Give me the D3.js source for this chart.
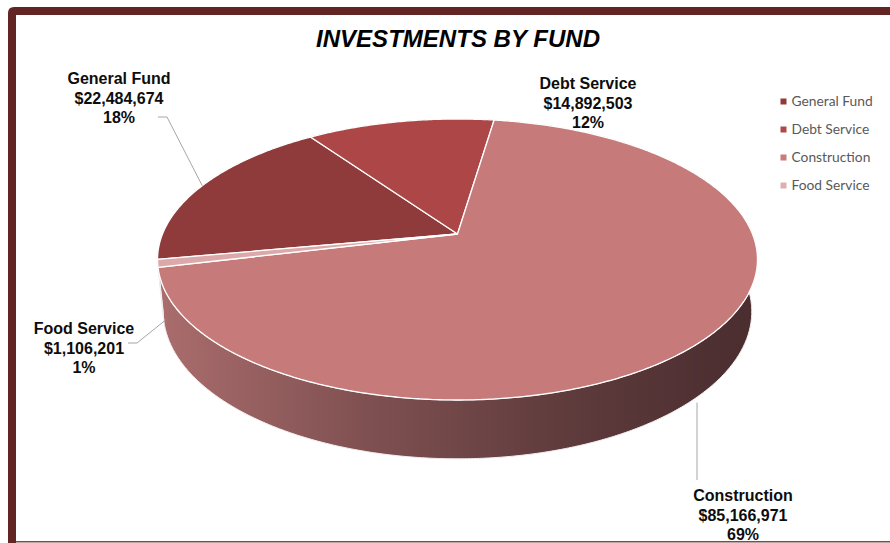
<!DOCTYPE html>
<html>
<head>
<meta charset="utf-8">
<script src="https://cdn.jsdelivr.net/npm/d3@7"></script>
<style>
  html, body { margin: 0; padding: 0; background: #fff; }
  svg { display: block; }
</style>
</head>
<body>
<svg id="chart" width="890" height="543"></svg>
<script>
// ---- data ----
const categories = ["General Fund", "Debt Service", "Construction", "Food Service"];
const values = [22484674, 14892503, 85166971, 1106201];
const valueLabels = ["$22,484,674", "$14,892,503", "$85,166,971", "$1,106,201"];
const percentLabels = ["18%", "12%", "69%", "1%"];
const title = "INVESTMENTS BY FUND";

// ---- styles ----
const topColors = ["#8f3b3b", "#ad4747", "#c67b7a", "#dba9a9"];
const legendColors = ["#8f3b3b", "#b04848", "#c87c7c", "#dcb0b0"];
const sideLight = ["#7a3030", "#963c3c", "#ab6d6d", "#c49494"];
const sideDark = ["#3e2022", "#4a2628", "#4a2d2f", "#6a4a4a"];

const W = 890, H = 543;
const svg = d3.select("#chart");

// frame
const frame = "#632523";
svg.append("path")
  .attr("d", `M8,543 L8,13 Q8,7 14,7 L890,7 L890,15 L16,15 L16,543 Z`)
  .attr("fill", frame);
svg.append("rect").attr("x", 16).attr("y", 541).attr("width", 874).attr("height", 1.5).attr("fill", "#8a4444");

// title
svg.append("text")
  .attr("x", 458).attr("y", 47)
  .attr("text-anchor", "middle")
  .attr("font-family", "'Liberation Sans', Arial, sans-serif")
  .attr("font-weight", "bold").attr("font-style", "italic")
  .attr("font-size", 24)
  .attr("textLength", 284).attr("lengthAdjust", "spacingAndGlyphs")
  .attr("fill", "#000")
  .text(title);

// ---- 3D pie projection ----
const cx = 457.5, cy = 234;
const s = 0.4606, c = 0.8876, D = 4.891, f = 1442.8, h = 0.2;
function proj(theta, yl) {
  const x = Math.sin(theta), z = -Math.cos(theta);
  const Ys = z * s - yl * c;
  const depth = D - z * c - yl * s;
  return [cx + f * x / depth, cy + f * Ys / depth];
}

const firstAngle = -100.4 * Math.PI / 180;
const pie = d3.pie().sort(null).value(d => d)
  .startAngle(firstAngle).endAngle(firstAngle + 2 * Math.PI);
const arcs = pie(values);

function sample(a0, a1, yl) {
  const n = Math.max(2, Math.ceil(Math.abs(a1 - a0) / (0.5 * Math.PI / 180)));
  const pts = [];
  for (let i = 0; i <= n; i++) pts.push(proj(a0 + (a1 - a0) * i / n, yl));
  return pts;
}
const line = d3.line();

const defs = svg.append("defs");
arcs.forEach((a, i) => {
  const g = defs.append("linearGradient").attr("id", "side" + i)
    .attr("gradientUnits", "userSpaceOnUse")
    .attr("x1", cx - 300).attr("x2", cx + 300).attr("y1", 0).attr("y2", 0);
  const interp = d3.interpolateRgb(sideLight[i], sideDark[i]);
  [0, 0.35, 0.7, 1].forEach((t, k) => {
    const tt = [0, 0.45, 0.8, 1][k];
    g.append("stop").attr("offset", t).attr("stop-color", interp(tt));
  });
});

const gPie = svg.append("g");
// sides
arcs.forEach((a, i) => {
  const topPts = sample(a.startAngle, a.endAngle, 0);
  const botPts = sample(a.endAngle, a.startAngle, -h);
  gPie.append("path")
    .attr("d", line(topPts.concat(botPts)) + "Z")
    .attr("fill", `url(#side${i})`)
    .attr("stroke", "#f4eeee").attr("stroke-width", 1)
    .attr("stroke-linejoin", "round");
});
// top faces
arcs.forEach((a, i) => {
  const pts = [[cx, cy]].concat(sample(a.startAngle, a.endAngle, 0));
  gPie.append("path")
    .attr("d", line(pts) + "Z")
    .attr("fill", topColors[i])
    .attr("stroke", "#ffffff").attr("stroke-width", 1.3)
    .attr("stroke-linejoin", "round");
});

// ---- labels ----
const labelFont = "'Liberation Sans', Arial, sans-serif";
const labelPos = [
  { x: 119, y: 84 },
  { x: 588, y: 89 },
  { x: 743, y: 501 },
  { x: 84, y: 334 }
];
const mid = a => (a.startAngle + a.endAngle) / 2;
const leaders = [
  i => [[158, 117], [167, 117], proj(mid(arcs[i]), 0)],
  null,
  i => { const p = proj(mid(arcs[i]), -h); return [[697, p[1] + 8], [697, 480]]; },
  i => { const p = proj(mid(arcs[i]), -h); return [[128, 343], [137, 343], [p[0] + 2, p[1] + 4]]; }
];
leaders.forEach((fn, i) => {
  if (!fn) return;
  svg.append("path").attr("d", line(fn(i)))
    .attr("fill", "none").attr("stroke", "#a6a6a6").attr("stroke-width", 1);
});
categories.forEach((cat, i) => {
  const t = svg.append("text")
    .attr("x", labelPos[i].x).attr("y", labelPos[i].y)
    .attr("text-anchor", "middle")
    .attr("font-family", labelFont).attr("font-weight", "bold")
    .attr("font-size", 16).attr("fill", "#0d0d0d");
  [cat, valueLabels[i], percentLabels[i]].forEach((txt, k) => {
    t.append("tspan").attr("x", labelPos[i].x).attr("dy", k === 0 ? 0 : 19.7).text(txt);
  });
});

// ---- legend ----
const legend = svg.append("g");
const ly = d3.scalePoint().domain(categories).range([101.5, 185.5]);
categories.forEach((cat, i) => {
  legend.append("rect")
    .attr("x", 780.5).attr("y", ly(cat) - 3).attr("width", 6).attr("height", 6)
    .attr("fill", legendColors[i]);
  legend.append("text")
    .attr("x", 791.5).attr("y", ly(cat)).attr("dy", "0.35em")
    .attr("font-family", "Lato, 'Noto Sans', sans-serif")
    .attr("font-size", 13.8).attr("fill", "#595959")
    .text(cat);
});
</script>
</body>
</html>
